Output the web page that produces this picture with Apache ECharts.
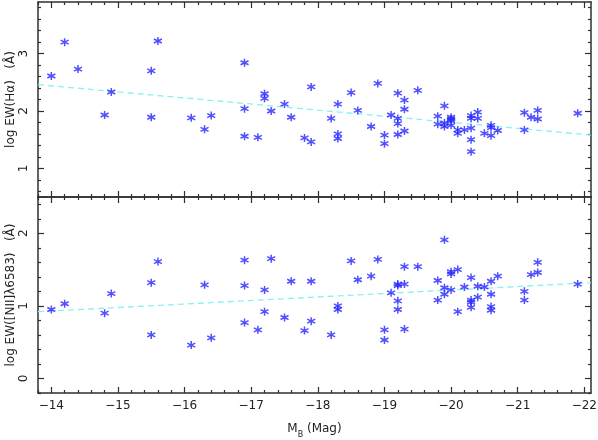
<!DOCTYPE html>
<html>
<head>
<meta charset="utf-8">
<title>log EW vs M_B</title>
<script src="https://cdn.jsdelivr.net/npm/echarts@6.0.0/dist/echarts.min.js"></script>
<style>
  html, body { margin: 0; padding: 0; background: #fff; }
  #chart { width: 598px; height: 440px; }
</style>
</head>
<body>
<div id="chart"></div>
<script>
// upper panel: log EW(Halpha) against absolute B magnitude
var haMag = [-14.0, -14.2, -14.4, -14.8, -14.9, -15.5, -15.5, -15.6, -16.1, -16.3,
             -16.4, -16.9, -16.9, -16.9, -17.1, -17.2, -17.2, -17.3, -17.5, -17.6,
             -17.8, -17.9, -17.9, -18.2, -18.3, -18.3, -18.3, -18.5, -18.6, -18.8,
             -18.9, -19.0, -19.0, -19.1, -19.2, -19.2, -19.2, -19.2, -19.3, -19.3,
             -19.3, -19.5, -19.8, -19.8, -19.9, -19.9, -19.9, -20.0, -20.0, -20.0,
             -20.0, -20.1, -20.1, -20.2, -20.3, -20.3, -20.3, -20.3, -20.3, -20.4,
             -20.4, -20.5, -20.6, -20.6, -20.6, -20.7, -21.1, -21.1, -21.2, -21.3,
             -21.3, -21.9];
var haLogEW = [2.61, 3.20, 2.73, 1.93, 2.33, 1.89, 2.70, 3.22, 1.88, 1.68,
               1.92, 2.84, 2.04, 1.56, 1.54, 2.30, 2.22, 2.00, 2.12, 1.89,
               1.53, 2.42, 1.46, 1.87, 2.12, 1.60, 1.52, 2.32, 2.01, 1.73,
               2.48, 1.58, 1.43, 1.93, 2.31, 1.87, 1.78, 1.59, 2.19, 2.03,
               1.65, 2.36, 1.91, 1.77, 2.09, 1.79, 1.73, 1.89, 1.86, 1.83,
               1.75, 1.67, 1.61, 1.67, 1.92, 1.87, 1.70, 1.50, 1.29, 1.98,
               1.87, 1.61, 1.75, 1.71, 1.57, 1.66, 1.97, 1.67, 1.89, 2.01,
               1.86, 1.96];

// lower panel: log EW([NII]6583)
var niiMag = [-14.0, -14.2, -14.8, -14.9, -15.5, -15.5, -15.6, -16.1, -16.3, -16.4,
              -16.9, -16.9, -16.9, -17.1, -17.2, -17.2, -17.3, -17.5, -17.6, -17.8,
              -17.9, -17.9, -18.2, -18.3, -18.3, -18.5, -18.6, -18.8, -18.9, -19.0,
              -19.0, -19.1, -19.2, -19.2, -19.2, -19.2, -19.3, -19.3, -19.3, -19.5,
              -19.8, -19.8, -19.9, -19.9, -19.9, -20.0, -20.0, -20.0, -20.1, -20.1,
              -20.2, -20.3, -20.3, -20.3, -20.3, -20.4, -20.4, -20.5, -20.6, -20.6,
              -20.6, -20.6, -20.7, -21.1, -21.1, -21.2, -21.3, -21.3, -21.9];
var niiLogEW = [0.95, 1.03, 0.90, 1.17, 1.32, 0.60, 1.61, 0.46, 1.29, 0.56,
                1.63, 1.28, 0.77, 0.67, 1.22, 0.92, 1.65, 0.84, 1.34, 0.66,
                1.34, 0.79, 0.60, 1.00, 0.95, 1.62, 1.36, 1.41, 1.64, 0.67,
                0.53, 1.18, 1.30, 1.28, 1.07, 0.95, 1.54, 1.30, 0.68, 1.54,
                1.35, 1.08, 1.91, 1.25, 1.16, 1.47, 1.44, 1.22, 1.50, 0.92,
                1.26, 1.39, 1.08, 1.05, 0.98, 1.27, 1.12, 1.26, 1.34, 1.16,
                0.99, 0.94, 1.41, 1.20, 1.08, 1.43, 1.60, 1.46, 1.30];

// dashed linear fits, evaluated at the two frame edges
var fitMag = [-13.8, -22.1];
var haFit = [2.46, 1.58];
var niiFit = [0.92, 1.32];

// tick labels
var magTicks = [-14, -15, -16, -17, -18, -19, -20, -21, -22];
var haTicks = [1, 2, 3];
var niiTicks = [0, 1, 2];

function minorTicks(lo, hi, majors) {
  var out = [];
  for (var k = Math.round(lo * 5); k <= Math.round(hi * 5); k++) {
    var v = Math.round(k * 2) / 10;
    if (majors.indexOf(v) < 0) out.push(v);
  }
  return out;
}

var ink = '#2f2f2f';
var font = 'DejaVu Sans';
var starColor = '#2323ff';
var fitColor = '#86f2f2';
var star = 'path://M5,0L5,10M0.67,2.5L9.33,7.5M0.67,7.5L9.33,2.5';

var grids = [
  { left: 38, top: 2, width: 553, height: 195, outerBoundsMode: 'none' },
  { left: 38, top: 197, width: 553, height: 196, outerBoundsMode: 'none' }
];

function xAxes(gridIndex, showLabels) {
  var minors = minorTicks(-22.0, -13.8, magTicks);
  var base = {
    type: 'value', gridIndex: gridIndex, min: -22.1, max: -13.8, inverse: true,
    splitLine: { show: false }
  };
  var list = [];
  ['bottom', 'top'].forEach(function (pos) {
    var labels = showLabels && pos === 'bottom';
    list.push(Object.assign({}, base, {
      position: pos,
      axisLine: { show: true, onZero: false, lineStyle: { color: ink, width: 1.5 } },
      axisTick: { show: true, inside: true, length: 6, customValues: magTicks,
                  lineStyle: { color: ink, width: 1.2 } },
      axisLabel: { show: labels, customValues: magTicks, margin: 7,
                   fontFamily: font, fontSize: 12, color: '#222',
                   formatter: function (v) { return (v < 0 ? '\u2212' : '') + Math.abs(v); } },
      name: labels ? '{a|M}{b|B}{a| (Mag)}' : '',
      nameLocation: 'middle', nameGap: 30, nameMoveOverlap: false,
      nameTextStyle: {
        rich: {
          a: { fontFamily: font, fontSize: 12, color: '#222', lineHeight: 16, verticalAlign: 'top' },
          b: { fontFamily: font, fontSize: 8, color: '#222', lineHeight: 16, verticalAlign: 'bottom' }
        }
      }
    }));
    list.push(Object.assign({}, base, {
      position: pos,
      axisLine: { show: false, onZero: false },
      axisTick: { show: true, inside: true, length: 3, customValues: minors,
                  lineStyle: { color: ink, width: 1.2 } },
      axisLabel: { show: false }
    }));
  });
  return list;
}

function yAxes(gridIndex, min, max, majors, name, nameGap) {
  var minors = minorTicks(min, max, majors);
  var base = { type: 'value', gridIndex: gridIndex, min: min, max: max, splitLine: { show: false } };
  var list = [];
  ['left', 'right'].forEach(function (pos) {
    var labels = pos === 'left';
    list.push(Object.assign({}, base, {
      position: pos,
      axisLine: { show: true, onZero: false, lineStyle: { color: ink, width: 1.5 } },
      axisTick: { show: true, inside: true, length: 6, customValues: majors,
                  lineStyle: { color: ink, width: 1.2 } },
      axisLabel: { show: labels, customValues: majors, rotate: 90, margin: 8,
                   fontFamily: font, fontSize: 12, color: '#222' },
      name: labels ? name : '',
      nameLocation: 'middle', nameRotate: 90, nameGap: nameGap, nameMoveOverlap: false,
      nameTextStyle: { fontFamily: font, fontSize: 12, color: '#222' }
    }));
    list.push(Object.assign({}, base, {
      position: pos,
      axisLine: { show: false, onZero: false },
      axisTick: { show: true, inside: true, length: 3, customValues: minors,
                  lineStyle: { color: ink, width: 1.2 } },
      axisLabel: { show: false }
    }));
  });
  return list;
}

function pairs(xs, ys) {
  return xs.map(function (x, i) { return [x, ys[i]]; });
}

function starSeries(xIdx, yIdx, xs, ys) {
  return {
    type: 'scatter', xAxisIndex: xIdx, yAxisIndex: yIdx,
    data: pairs(xs, ys),
    symbol: star, symbolSize: 8,
    itemStyle: { color: 'rgba(0,0,0,0)', borderColor: starColor, borderWidth: 1.5 },
    z: 3
  };
}

function fitSeries(xIdx, yIdx, ys) {
  return {
    type: 'line', xAxisIndex: xIdx, yAxisIndex: yIdx,
    data: pairs(fitMag, ys),
    symbol: 'none', silent: true,
    lineStyle: { color: fitColor, width: 1.3, type: [6, 4] },
    z: 2
  };
}

var chart = echarts.init(document.getElementById('chart'), null, { renderer: 'canvas' });
chart.setOption({
  animation: false,
  backgroundColor: '#fff',
  grid: grids,
  xAxis: xAxes(0, false).concat(xAxes(1, true)),
  yAxis: yAxes(0, 0.5, 3.9, haTicks, 'log EW(H\u03b1)   (\u00c5)', 21)
    .concat(yAxes(1, -0.2, 2.5, niiTicks, 'log EW([NII]\u03bb6583)   (\u00c5)', 21)),
  series: [
    fitSeries(0, 0, haFit),
    starSeries(0, 0, haMag, haLogEW),
    fitSeries(4, 4, niiFit),
    starSeries(4, 4, niiMag, niiLogEW)
  ]
});
</script>
</body>
</html>
